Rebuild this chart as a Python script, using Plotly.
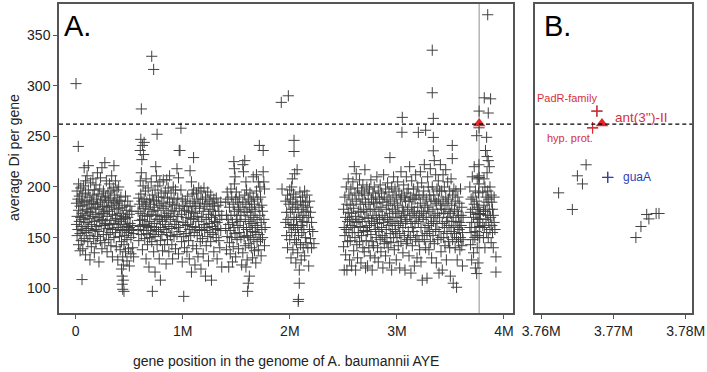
import plotly.graph_objects as go

# ---- data: gene position (Mbp) -> average Di values ----
seg_0_055 = [(0.008,[184,163]),(0.013,[171,152,196]),(0.021,[188,158]),(0.027,[177,143,203]),(0.034,[166,191]),
 (0.041,[181,154,137]),(0.047,[199,170]),(0.052,[161,186,147]),(0.061,[174,193]),(0.066,[157,182,139]),
 (0.074,[201,168]),(0.079,[185,149,219]),(0.087,[172,161]),(0.092,[194,206,133]),(0.099,[178,155]),
 (0.106,[187,165,211]),(0.113,[146,176]),(0.118,[197,159,221]),(0.126,[169,183]),(0.133,[152,190,128]),
 (0.139,[175,204]),(0.146,[163,186,141]),(0.153,[179,157]),(0.161,[192,171,208]),(0.168,[149,184]),
 (0.174,[166,197,135]),(0.182,[180,158]),(0.189,[173,202,144]),(0.196,[161,188]),(0.203,[183,151,214]),
 (0.209,[170,193]),(0.217,[156,178,126]),(0.224,[198,167]),(0.231,[185,147,209]),(0.238,[174,162]),
 (0.245,[191,219,139]),(0.252,[168,181]),(0.259,[153,196,174]),(0.266,[187,162]),(0.272,[224,176,145]),
 (0.279,[164,190]),(0.286,[181,153,206]),(0.293,[171,136]),(0.301,[194,159,180]),(0.308,[148,187]),
 (0.315,[176,203,163]),(0.322,[189,155]),(0.329,[167,142,196]),(0.336,[182,211]),(0.343,[158,173,131]),
 (0.351,[199,185]),(0.357,[164,150,221]),(0.364,[178,192]),(0.371,[155,169,206]),(0.379,[184,141]),
 (0.386,[172,197,160]),(0.393,[187,128]),(0.401,[163,179,200]),(0.408,[151,186]),(0.415,[174,166,138]),
 (0.422,[190,157]),(0.428,[168,146,119]),(0.434,[180,112,104]),(0.439,[158,131,99]),(0.445,[171,123,108]),
 (0.451,[163,143,97]),(0.458,[182,152]),(0.465,[169,136,191]),(0.472,[177,158]),(0.479,[161,148,127]),
 (0.486,[186,170]),(0.493,[155,139]),(0.501,[173,160,122]),(0.508,[164,181]),(0.516,[150,134]),
 (0.524,[176,157]),(0.532,[162,140]),(0.541,[154,131]),(0.003,[302]),(0.024,[240]),(0.059,[108.6])]

seg_058_105 = [(0.583,[176,158]),(0.589,[189,147]),(0.596,[167,183]),(0.603,[206,236,161]),(0.608,[247,193,174]),
 (0.613,[214,153,277]),(0.618,[227,186]),(0.623,[241,168,138]),(0.629,[201,179]),(0.634,[232,157]),
 (0.639,[244,188,163]),(0.645,[172,149]),(0.651,[196,181]),(0.657,[162,129,208]),(0.664,[185,154]),
 (0.671,[171,143]),(0.677,[199,160]),(0.684,[178,121]),(0.691,[188,166,150]),(0.698,[157,183]),
 (0.705,[205,173]),(0.710,[329,161,146]),(0.716,[192,97]),(0.722,[176,153]),(0.728,[316,187,136]),
 (0.734,[164,180]),(0.741,[151,116,197]),(0.748,[220,172]),(0.754,[211,186,158]),(0.760,[252,143,168]),
 (0.767,[201,177]),(0.773,[156,190]),(0.780,[168,129]),(0.786,[182,205]),(0.791,[108,160,147]),
 (0.798,[194,171]),(0.805,[153,184]),(0.811,[166,137]),(0.818,[207,179]),(0.824,[158,190]),(0.831,[172,143]),
 (0.837,[196,163]),(0.844,[181,124]),(0.850,[207,155,170]),(0.857,[189,148]),(0.864,[174,199]),
 (0.870,[161,136]),(0.877,[185,211]),(0.884,[168,152]),(0.891,[194,177]),(0.898,[159,143]),(0.905,[183,129]),
 (0.911,[171,200]),(0.918,[151,188]),(0.925,[176,163]),(0.932,[197,139]),(0.939,[166,182]),(0.946,[218,153]),
 (0.953,[189,171]),(0.960,[209,160,134]),(0.967,[236,179]),(0.974,[236,156]),(0.983,[258,197]),
 (0.989,[173,146]),(0.995,[188,126]),(1.002,[165,181]),(1.009,[151,92]),(1.016,[177,140]),(1.024,[162,186]),
 (1.031,[154,170]),(1.039,[181,136])]

seg_105_138 = [(1.046,[191,163]),(1.054,[176,147]),(1.061,[158,129]),(1.068,[216,184]),(1.074,[169,152]),
 (1.081,[205,175,116]),(1.088,[193,161]),(1.094,[142,181]),(1.101,[229,197,168]),(1.107,[155,186]),
 (1.114,[123,174]),(1.121,[181,160]),(1.128,[139,194]),(1.135,[171,152]),(1.142,[188,131]),(1.149,[166,199]),
 (1.156,[157,179]),(1.163,[184,146]),(1.170,[196,119]),(1.177,[170,158]),(1.184,[188,149]),(1.191,[176,134]),
 (1.198,[199,163]),(1.205,[181,157]),(1.212,[112,190]),(1.219,[168,142]),(1.226,[183,160]),(1.233,[195,151]),
 (1.240,[173,127]),(1.247,[186,164]),(1.254,[178,155]),(1.261,[192,146]),(1.268,[170,108]),(1.275,[184,161]),
 (1.283,[153,176]),(1.290,[188,136]),(1.297,[166,181]),(1.305,[158,172]),(1.313,[150,189]),(1.321,[165,129]),
 (1.329,[182,159]),(1.337,[176,147]),(1.346,[168,140]),(1.355,[185,157]),(1.364,[172,121])]

seg_140_155 = [(1.401,[185,159]),(1.408,[138,172]),(1.415,[195,151]),(1.422,[168,188]),(1.429,[121,163]),
 (1.436,[180,145]),(1.443,[157,134]),(1.450,[198,172]),(1.457,[190,150]),(1.464,[165,126]),(1.471,[183,141]),
 (1.477,[225,160]),(1.482,[218,203,176]),(1.488,[154,210]),(1.494,[188,131]),(1.500,[168,195]),
 (1.507,[148,172]),(1.514,[185,162]),(1.521,[178,139]),(1.528,[155,190]),(1.535,[166,180]),(1.543,[150,172]),
 (1.550,[123])]

seg_156_177 = [(1.561,[222,185,135]),(1.567,[160,215]),(1.573,[176,151]),(1.579,[226,192]),(1.584,[168,142]),
 (1.590,[205,183,121]),(1.596,[158,197]),(1.601,[175,128]),(1.606,[97,152]),(1.612,[188,105]),(1.617,[166,144]),
 (1.622,[180,112]),(1.628,[160,194]),(1.634,[172,150]),(1.640,[186,140]),(1.646,[164,178]),(1.652,[156,130]),
 (1.658,[210,190]),(1.664,[170,148]),(1.670,[183,137]),(1.676,[162,176]),(1.682,[155,125]),(1.688,[212,196]),
 (1.694,[168,146]),(1.700,[188,160]),(1.706,[138,205]),(1.712,[180,153]),(1.715,[241]),(1.720,[200,172]),
 (1.726,[148,190]),(1.732,[165,132]),(1.738,[182,158]),(1.745,[176,150]),(1.751,[236,215]),(1.757,[205,168]),
 (1.763,[142,198]),(1.769,[160]),(1.920,[283.5]),(1.927,[198])]

seg_196_225 = [(1.962,[186,165]),(1.970,[175,152]),(1.978,[192,140]),(1.983,[168]),(1.986,[290]),
 (1.992,[183,160]),(1.999,[197,148]),(2.005,[175,188]),(2.011,[163,130]),(2.017,[200,155]),(2.023,[178,208]),
 (2.029,[185,138]),(2.034,[162,193]),(2.039,[246,235,170]),(2.045,[148,213]),(2.051,[180,158]),
 (2.056,[125,190]),(2.062,[168,145]),(2.068,[217,183]),(2.073,[160,135]),(2.078,[87,175]),(2.081,[89,152]),
 (2.088,[105,118]),(2.094,[195,170]),(2.100,[143,186]),(2.106,[162,128]),(2.112,[178,155]),(2.119,[190,166]),
 (2.125,[140,182]),(2.131,[158,172]),(2.138,[196,132]),(2.145,[185,150]),(2.152,[176,145]),(2.160,[192,165]),
 (2.168,[180,140]),(2.176,[170,122]),(2.184,[186,158]),(2.193,[175,149]),(2.203,[165,140]),(2.214,[156]),
 (2.225,[144])]

seg_250_362 = [(2.502,[178,141]),(2.508,[160,118]),(2.514,[190,152]),(2.521,[170,133]),(2.527,[200,158]),
 (2.533,[118,183]),(2.539,[166,146]),(2.545,[208,175]),(2.552,[155,192]),(2.558,[128,168]),(2.564,[182,147]),
 (2.570,[162,198]),(2.577,[122,174]),(2.583,[188,155]),(2.589,[166,205]),(2.596,[137,179]),(2.602,[220,160]),
 (2.608,[194,150]),(2.614,[171,118]),(2.620,[213,186]),(2.626,[143,165]),(2.632,[199,130]),(2.639,[176,155]),
 (2.645,[192,168]),(2.651,[146,207]),(2.657,[183,161]),(2.664,[125,175]),(2.670,[196,152]),(2.676,[166,188]),
 (2.682,[140,202]),(2.689,[178,157]),(2.695,[136,194]),(2.701,[217,170]),(2.707,[120,185]),(2.713,[160,147]),
 (2.719,[200,176]),(2.726,[156,122]),(2.732,[192,169]),(2.738,[140,183]),(2.744,[162,198]),(2.751,[132,178]),
 (2.757,[207,153]),(2.763,[188,166]),(2.769,[118,146]),(2.776,[194,172]),(2.782,[142,185]),(2.788,[164,200]),
 (2.794,[130,178]),(2.801,[158,190]),(2.807,[170,150]),(2.813,[210,184]),(2.819,[140,164]),(2.826,[196,126]),
 (2.832,[176,156]),(2.838,[188,168]),(2.844,[148,202]),(2.851,[136,180]),(2.857,[160,194]),(2.863,[152,172]),
 (2.869,[120,185]),(2.876,[212,165]),(2.882,[190,144]),(2.888,[170,150]),(2.894,[198,132]),(2.901,[178,158]),
 (2.907,[188,146]),(2.913,[168,204]),(2.919,[140,182]),(2.926,[162,195]),(2.932,[125,174]),(2.935,[229]),
 (2.938,[154,186]),(2.944,[166,145]),(2.951,[200,118]),(2.957,[178,158]),(2.963,[192,170]),(2.969,[150,210]),
 (2.976,[138,184]),(2.982,[164,198]),(2.988,[176,156]),(2.994,[190,128]),(3.001,[170,150]),(3.007,[205,182]),
 (3.013,[162,142]),(3.019,[196,174]),(3.026,[154,120]),(3.032,[188,166]),(3.038,[146,215]),(3.044,[192,170]),
 (3.047,[254]),(3.050,[268.7,180]),(3.056,[160,135]),(3.063,[202,176]),(3.069,[152,190]),(3.075,[118,172]),
 (3.081,[186,164]),(3.088,[144,210]),(3.094,[194,168]),(3.100,[148,178]),(3.106,[198,156]),(3.113,[132,186]),
 (3.119,[172,220]),(3.125,[150,190]),(3.131,[166,115]),(3.138,[206,180]),(3.144,[160,142]),(3.150,[188,174]),
 (3.156,[198,156]),(3.163,[122,176]),(3.169,[188,164]),(3.175,[148,212]),(3.181,[170,192]),(3.188,[152,130]),
 (3.194,[180,200]),(3.200,[253.9,166]),(3.206,[146,192]),(3.212,[172,138]),(3.219,[215,184]),(3.225,[160,126]),
 (3.231,[204,176]),(3.237,[108,152]),(3.244,[190,168]),(3.250,[196,174]),(3.256,[148,222]),(3.262,[182,160]),
 (3.268,[256,140]),(3.274,[188,170]),(3.281,[110,154]),(3.287,[210,180]),(3.293,[162,200]),(3.299,[138,176]),
 (3.306,[192,156]),(3.312,[218,146]),(3.318,[170,186]),(3.324,[130,164]),(3.330,[335,293,200]),
 (3.337,[178,152]),(3.340,[267.7,248.9,235.7]),(3.343,[192,166]),(3.349,[144,226]),(3.356,[186,172]),
 (3.362,[158,212]),(3.368,[125,184]),(3.374,[198,164]),(3.381,[148,174]),(3.387,[206,188]),(3.393,[156,115]),
 (3.399,[196,170]),(3.406,[222,182]),(3.412,[150,136]),(3.418,[178,196]),(3.424,[164,118]),(3.431,[212,186]),
 (3.437,[174,150]),(3.443,[200,160]),(3.449,[142,178]),(3.456,[217,190]),(3.462,[166,128]),(3.468,[184,154]),
 (3.474,[205,170]),(3.481,[146,188]),(3.487,[176,162]),(3.493,[140,196]),(3.499,[112,174]),(3.506,[208,156]),
 (3.512,[182,166]),(3.517,[241,228]),(3.520,[148,192]),(3.526,[170,105]),(3.532,[198,160]),(3.538,[154,178]),
 (3.544,[186,140]),(3.551,[166,196]),(3.557,[101,150]),(3.563,[176,128]),(3.569,[190,160]),(3.575,[146,172]),
 (3.582,[184,158]),(3.588,[165,138]),(3.594,[198,150]),(3.600,[172,162]),(3.606,[142,180]),(3.612,[155,122]),
 (3.618,[170,148])]

seg_368_378 = [(3.681,[200,160]),(3.687,[175,143]),(3.693,[188,155]),(3.698,[165,128]),(3.704,[210,178]),
 (3.710,[148,190]),(3.716,[170,135]),(3.722,[220,183]),(3.728,[160,150]),(3.733,[196,120]),(3.739,[173,156]),
 (3.745,[250.6,114.5,186]),(3.750,[208,165,140]),(3.754,[180,152]),(3.757,[168,125]),(3.7624,[194.2]),
 (3.7643,[177.8]),(3.7650,[211]),(3.7657,[203]),(3.7662,[221.9]),(3.7671,[258.4]),(3.7677,[274.9]),
 (3.7692,[209.4]),(3.7731,[150.1]),(3.7738,[161]),(3.7746,[172.8]),(3.7749,[168.5]),(3.7759,[173.8]),
 (3.7763,[173.8])]

seg_380_395 = [(3.802,[195,162]),(3.808,[176,150]),(3.813,[208,182]),(3.816,[288,160]),(3.822,[200,140]),
 (3.827,[236,176]),(3.832,[190,168]),(3.838,[249,155]),(3.842,[230,214,185]),(3.848,[370,196,172]),
 (3.853,[273,226,150]),(3.858,[188,165]),(3.863,[220,178]),(3.869,[200,158]),(3.875,[287,170]),
 (3.880,[192,145]),(3.886,[185,162]),(3.893,[178,155]),(3.900,[172,140]),(3.908,[165,190]),(3.915,[158]),
 (3.925,[131,116])]

# highlighted genes (panel B)
ant_pos, ant_val = 3.7684, 262.7
red_pos = [3.7677, 3.7671]          # PadR-family, hyp. prot.
red_val = [274.9, 258.4]
guaA_pos, guaA_val = 3.7692, 209.4
threshold = 262

x_ticks_a = [0, 1, 2, 3, 4]
x_ticktext_a = ["0", "1M", "2M", "3M", "4M"]
x_ticks_b = [3.76, 3.77, 3.78]
x_ticktext_b = ["3.76M", "3.77M", "3.78M"]
y_ticks = [100, 150, 200, 250, 300, 350]

segments = [seg_0_055, seg_058_105, seg_105_138, seg_140_155, seg_156_177,
            seg_196_225, seg_250_362, seg_368_378, seg_380_395]
xs, ys = [], []
for seg in segments:
    for pos, vals in seg:
        for v in vals:
            xs.append(pos * 1e6)
            ys.append(v)

W, H = 707, 372
def px(x): return x / W
def py(y): return 1 - y / H

GRAY = "#404040"
RED = "#e3262b"
TXT_RED = "#d8303a"
BLUE = "#2b3fb5"
FONT = "Liberation Sans"

fig = go.Figure()
mk = dict(symbol="cross-thin-open", size=8, color=GRAY, line=dict(width=1, color=GRAY))
fig.add_trace(go.Scatter(x=xs, y=ys, mode="markers", marker=mk, xaxis="x", yaxis="y", showlegend=False))
fig.add_trace(go.Scatter(x=xs, y=ys, mode="markers", marker=mk, xaxis="x2", yaxis="y2", showlegend=False))
for xa, ya in (("x", "y"), ("x2", "y2")):
    fig.add_trace(go.Scatter(x=[ant_pos * 1e6], y=[ant_val], mode="markers", xaxis=xa, yaxis=ya,
                             marker=dict(symbol="triangle-up", size=11, color=RED), showlegend=False))
fig.add_trace(go.Scatter(x=[p * 1e6 for p in red_pos], y=red_val, mode="markers", xaxis="x2", yaxis="y2",
                         marker=dict(symbol="cross-thin-open", size=8, color=RED, line=dict(width=1.2, color=RED)),
                         showlegend=False))
fig.add_trace(go.Scatter(x=[guaA_pos * 1e6], y=[guaA_val], mode="markers", xaxis="x2", yaxis="y2",
                         marker=dict(symbol="cross-thin-open", size=8, color=BLUE, line=dict(width=1.2, color=BLUE)),
                         showlegend=False))

yr = [75.3, 380.6]
dom_y = [py(313.3), py(4)]
axis_common = dict(showline=True, mirror=True, linecolor="#555", linewidth=1.5, showgrid=False,
                   zeroline=False, ticks="outside", ticklen=4, tickcolor="#555", automargin=False,
                   tickfont=dict(family=FONT, size=14, color="#222"))
fig.update_layout(
    template="none",
    width=W, height=H, margin=dict(l=0, r=0, t=0, b=0, autoexpand=False),
    paper_bgcolor="white", plot_bgcolor="white",
    xaxis=dict(domain=[px(59), px(513.3)], range=[-0.156e6, 4.087e6], anchor="y",
               tickvals=[t * 1e6 for t in x_ticks_a], ticktext=x_ticktext_a, **axis_common),
    yaxis=dict(domain=dom_y, range=yr, anchor="x", tickvals=y_ticks, **axis_common),
    xaxis2=dict(domain=[px(535.3), px(692)], range=[3.75917e6, 3.78087e6], anchor="y2",
                tickvals=[t * 1e6 for t in x_ticks_b], ticktext=x_ticktext_b, **axis_common),
    yaxis2=dict(domain=dom_y, range=yr, anchor="x2", showline=True, mirror=True, linecolor="#555",
                linewidth=1.5, showgrid=False, zeroline=False, showticklabels=False, ticks="",
                automargin=False),
)

# threshold line and gene marker line
fig.add_shape(type="line", xref="x domain", yref="y", x0=0, x1=1, y0=threshold, y1=threshold,
              line=dict(color="black", width=1.2, dash="4px,3px"))
fig.add_shape(type="line", xref="x2 domain", yref="y2", x0=0, x1=1, y0=threshold, y1=threshold,
              line=dict(color="black", width=1.2, dash="4px,3px"))
fig.add_shape(type="line", xref="x", yref="y domain", x0=ant_pos * 1e6, x1=ant_pos * 1e6, y0=0, y1=1,
              line=dict(color="#b5b5b5", width=1.5), layer="below")

ann = [
    dict(text="A.", x=px(62), y=py(26), xref="paper", yref="paper", xanchor="left", yanchor="middle",
         font=dict(size=29, family=FONT, color="black")),
    dict(text="B.", x=px(542), y=py(26), xref="paper", yref="paper", xanchor="left", yanchor="middle",
         font=dict(size=29, family=FONT, color="black")),
    dict(text="average Di per gene", x=px(14), y=py(158), xref="paper", yref="paper", textangle=-90,
         xanchor="center", yanchor="middle", font=dict(size=14, family=FONT, color="#222")),
    dict(text="gene position in the genome of A. baumannii AYE", x=px(286), y=py(361), xref="paper",
         yref="paper", xanchor="center", yanchor="middle", font=dict(size=14, family=FONT, color="#222")),
    dict(text="PadR-family", x=3.7636e6, y=288, xref="x2", yref="y2", xanchor="center", yanchor="middle",
         font=dict(size=11, family=FONT, color=TXT_RED)),
    dict(text="ant(3'')-II", x=3.7699e6, y=268.5, xref="x2", yref="y2", xanchor="left", yanchor="middle",
         font=dict(size=13.5, family=FONT, color=TXT_RED)),
    dict(text="hyp. prot.", x=3.7640e6, y=248, xref="x2", yref="y2", xanchor="center", yanchor="middle",
         font=dict(size=11, family=FONT, color=TXT_RED)),
    dict(text="guaA", x=3.7711e6, y=209.4, xref="x2", yref="y2", xanchor="left", yanchor="middle",
         font=dict(size=12, family=FONT, color=BLUE)),
]
for a in ann:
    a["showarrow"] = False
    fig.add_annotation(**a)

fig.write_html("out.html", config={"displayModeBar": False},
               post_script="document.body.style.margin='0';document.body.style.overflow='hidden';")
